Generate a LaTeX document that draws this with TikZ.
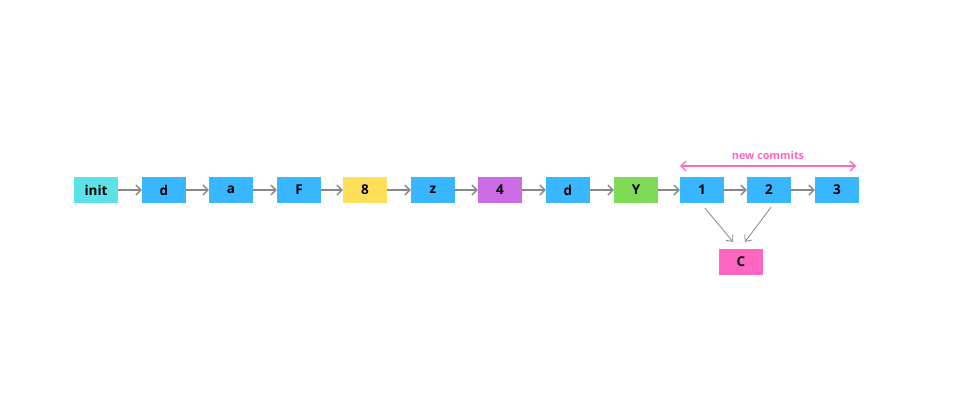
\documentclass[tikz,border=0pt]{standalone}
\usepackage{fontspec}
\setmainfont{Open Sans}
\usetikzlibrary{arrows.meta}
\definecolor{cyanbox}{HTML}{5CE1E6}
\definecolor{bluebox}{HTML}{38B6FF}
\definecolor{yellowbox}{HTML}{FFDE59}
\definecolor{purplebox}{HTML}{CB6CE6}
\definecolor{greenbox}{HTML}{7ED957}
\definecolor{pinkbox}{HTML}{FF66C4}
\definecolor{arrowgray}{HTML}{878787}
\tikzset{
    commit/.style={minimum width=44pt, minimum height=26pt, inner sep=0pt,
        font=\fontsize{13.5}{15}\selectfont\bfseries},
    link/.style={draw=arrowgray, line width=1.3pt, -{Straight Barb[length=5pt,width=10pt]}},
    merge/.style={draw=arrowgray, line width=0.8pt, -{Straight Barb[length=5pt,width=9pt]}}
}

\begin{document}
\begin{tikzpicture}[x=1pt, y=-1pt]
    \useasboundingbox (0,0) rectangle (960,400);
    \node[commit, fill=cyanbox] (init) at (96,190) {init};
    \node[commit, fill=bluebox] (d1) at (164,190) {d};
    \node[commit, fill=bluebox] (a) at (231,190) {a};
    \node[commit, fill=bluebox] (F) at (299,190) {F};
    \node[commit, fill=yellowbox] (eight) at (365,190) {8};
    \node[commit, fill=bluebox] (z) at (433,190) {z};
    \node[commit, fill=purplebox] (four) at (500,190) {4};
    \node[commit, fill=bluebox] (d2) at (568,190) {d};
    \node[commit, fill=greenbox] (Y) at (636,190) {Y};
    \node[commit, fill=bluebox] (one) at (702,190) {1};
    \node[commit, fill=bluebox] (two) at (769,190) {2};
    \node[commit, fill=bluebox] (three) at (837,190) {3};
    \node[commit, fill=pinkbox] (C) at (741,262) {C};
    \draw[link] (init) -- (d1);
    \draw[link] (d1) -- (a);
    \draw[link] (a) -- (F);
    \draw[link] (F) -- (eight);
    \draw[link] (eight) -- (z);
    \draw[link] (z) -- (four);
    \draw[link] (four) -- (d2);
    \draw[link] (d2) -- (Y);
    \draw[link] (Y) -- (one);
    \draw[link] (one) -- (two);
    \draw[link] (two) -- (three);
    \draw[merge] ([xshift=3pt,yshift=-5pt]one.south) -- ([xshift=-8pt,yshift=7pt]C.north);
    \draw[merge] ([xshift=2pt,yshift=-4pt]two.south) -- ([xshift=4pt,yshift=7pt]C.north);
    \coordinate (span1) at (680,166);
    \coordinate (span2) at (856,166);
    \draw[draw=pinkbox, line width=1.3pt, {Straight Barb[length=5pt,width=10pt]}-{Straight Barb[length=5pt,width=10pt]}]
        (span1) -- (span2) node[midway, above=2pt, text=pinkbox, font=\fontsize{10.8}{12}\selectfont\bfseries] (newlabel) {new commits};
\end{tikzpicture}
\end{document}
